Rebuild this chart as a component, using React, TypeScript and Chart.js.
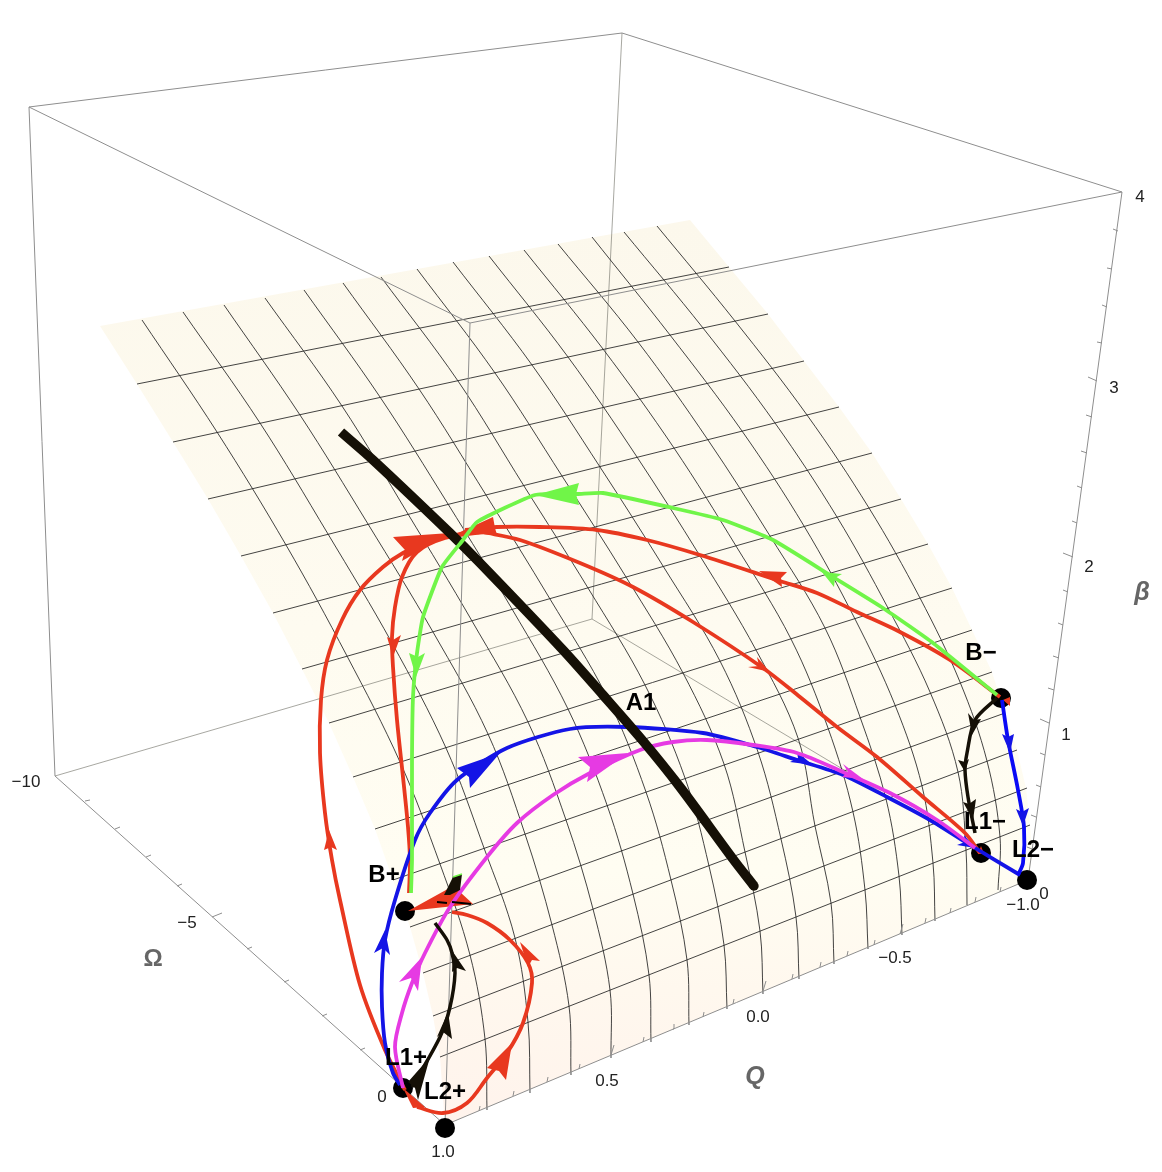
import React, { useEffect, useRef } from "react";
import { Chart, registerables } from "chart.js";

Chart.register(...registerables);

type P = [number, number];

// All values are positions.
const surfaceOutline: P[] = [
  [100, 326], [690, 220], [729, 267], [768, 314], [804, 361], [839, 407], [872, 453], [901, 499], [928, 544],
  [952, 588], [972, 630], [992, 672], [1005, 713], [1017, 750], [1026, 788], [1030, 825], [1032, 855], [1028, 880],
  [445, 1125], [440, 1057], [433, 1016], [423, 973], [410, 927], [393, 880], [375, 829], [353, 777], [329, 723],
  [302, 669], [273, 613], [241, 556], [208, 499], [173, 442], [137, 384],
];

const meshOmega: P[][] = [
  [[137, 384], [729, 267]], [[173, 442], [768, 314]], [[208, 499], [804, 361]], [[241, 556], [839, 407]],
  [[273, 613], [872, 453]], [[302, 669], [901, 499]], [[329, 723], [928, 544]], [[353, 777], [952, 588]],
  [[375, 829], [972, 630]], [[393, 880], [992, 672]], [[410, 927], [1005, 713]], [[423, 973], [1017, 750]],
  [[433, 1016], [1027, 788]], [[440, 1057], [1030, 825]],
];

const meshQ: P[][] = [
  [[142, 320], [217, 432], [286, 545], [347, 656], [400, 762], [440, 864], [470, 955], [485, 1039], [487, 1110]],
  [[183, 312], [260, 423], [328, 534], [392, 643], [446, 748], [484, 848], [515, 938], [528, 1022], [530, 1093]],
  [[224, 305], [300, 415], [368, 524], [433, 632], [488, 734], [525, 834], [552, 925], [569, 1006], [571, 1075]],
  [[265, 298], [342, 406], [408, 514], [472, 621], [528, 722], [566, 820], [593, 909], [610, 990], [611, 1058]],
  [[304, 290], [380, 397], [448, 504], [512, 609], [568, 709], [607, 805], [633, 894], [649, 975], [651, 1042]],
  [[343, 283], [419, 389], [486, 495], [550, 599], [607, 697], [646, 792], [671, 880], [687, 960], [689, 1025]],
  [[381, 277], [458, 381], [524, 486], [588, 588], [645, 685], [685, 778], [709, 866], [724, 945], [727, 1009]],
  [[417, 269], [495, 373], [562, 476], [626, 577], [683, 673], [724, 764], [745, 852], [760, 931], [763, 994]],
  [[453, 262], [532, 365], [600, 467], [663, 566], [720, 661], [758, 752], [781, 839], [796, 917], [799, 979]],
  [[489, 256], [568, 357], [637, 457], [700, 556], [756, 650], [798, 738], [815, 826], [831, 903], [834, 964]],
  [[524, 250], [603, 349], [674, 448], [736, 546], [791, 639], [828, 728], [853, 812], [865, 890], [868, 949]],
  [[558, 244], [638, 342], [708, 440], [770, 536], [825, 628], [860, 717], [886, 799], [899, 876], [902, 935]],
  [[592, 237], [670, 335], [742, 431], [804, 526], [855, 619], [895, 705], [922, 786], [933, 863], [935, 921]],
  [[624, 232], [703, 328], [775, 423], [837, 517], [888, 608], [930, 692], [958, 772], [966, 850], [967, 905]],
  [[657, 226], [735, 321], [807, 415], [869, 508], [920, 598], [960, 682], [987, 761], [1000, 837], [998, 890]],
];

const boxBack: P[][] = [
  [[55, 776], [592, 619]], [[592, 619], [1028, 880]], [[622, 33], [592, 619]],
];
const boxFront: P[][] = [
  [[29, 107], [622, 33]], [[622, 33], [1122, 192]], [[29, 107], [470, 323]], [[470, 323], [1122, 192]],
  [[29, 107], [55, 776]], [[470, 323], [445, 1125]], [[1122, 192], [1028, 880]], [[55, 776], [445, 1125]],
  [[445, 1125], [1028, 880]],
];

const omegaTicks: P[][] = [
  [[85, 801], [90, 800]], [[115, 829], [120, 827]], [[146, 857], [151, 855]], [[177, 886], [182, 884]],
  [[212, 917], [222, 913]], [[247, 949], [252, 947]], [[284, 982], [289, 980]], [[322, 1016], [327, 1014]],
  [[360, 1050], [365, 1048]], [[400, 1086], [410, 1082]],
];
const qTicks: P[][] = [
  [[479, 1111], [480, 1106]], [[513, 1096], [514, 1091]], [[547, 1082], [548, 1077]], [[579, 1069], [580, 1064]],
  [[611, 1055], [614, 1045]], [[643, 1042], [644, 1037]], [[673, 1029], [674, 1024]], [[703, 1017], [704, 1012]],
  [[733, 1004], [734, 999]], [[763, 991], [766, 981]], [[792, 979], [793, 974]], [[820, 967], [821, 962]],
  [[847, 956], [848, 951]], [[874, 945], [875, 940]], [[900, 934], [903, 924]], [[925, 923], [926, 918]],
  [[950, 913], [951, 908]], [[975, 902], [976, 897]], [[1000, 892], [1001, 887]],
];
const betaTicks: P[][] = [
  [[1118, 231], [1113, 229]], [[1112, 269], [1107, 268]], [[1107, 307], [1102, 305]], [[1102, 343], [1097, 342]],
  [[1097, 381], [1088, 377]], [[1092, 417], [1086, 415]], [[1087, 453], [1081, 451]], [[1082, 488], [1077, 486]],
  [[1077, 523], [1072, 521]], [[1073, 557], [1063, 553]], [[1068, 592], [1063, 590]], [[1063, 625], [1058, 623]],
  [[1059, 658], [1053, 656]], [[1054, 690], [1048, 688]], [[1049, 723], [1040, 719]], [[1045, 755], [1040, 753]],
  [[1041, 787], [1036, 785]], [[1036, 817], [1031, 815]], [[1032, 849], [1027, 847]],
];

const fixedPoints: P[] = [[405, 911], [445, 1128], [403, 1088], [1001, 698], [981, 853], [1027, 880]];

const lineA1: P[] = [[341, 432], [373, 460], [450, 533], [480, 563], [563, 650], [603, 695], [643, 741], [680, 787], [733, 859], [754, 886]];

const redOuter: P[] = [
  [405, 1090], [385, 1050], [360, 985], [340, 900], [332, 860], [325, 813], [320, 753], [321, 700], [327, 660], [342, 620],
  [360, 590], [383, 567], [403, 553], [430, 541], [470, 532],
];
const redUpper: P[] = [
  [1000, 697], [950, 660], [900, 632], [857, 612], [817, 593], [780, 581], [700, 555], [647, 540], [597, 530], [540, 527], [497, 527], [465, 530],
];
const redLower: P[] = [
  [980, 853], [965, 833], [923, 797], [877, 757], [837, 727], [800, 697], [763, 668], [693, 622], [633, 587], [580, 563], [520, 540], [483, 532],
];
const redInner: P[] = [
  [483, 532], [445, 538], [417, 552], [402, 577], [395, 607], [392, 637], [393, 667], [397, 720], [403, 777], [408, 827], [410, 860], [409, 893],
];
const redLoop: P[] = [
  [417, 1107], [443, 1113], [467, 1103], [487, 1078], [507, 1053], [523, 1023], [532, 983], [528, 963], [510, 940], [487, 923], [467, 915], [452, 912],
];
const greenPath: P[] = [
  [997, 695], [933, 643], [883, 608], [833, 577], [773, 540], [723, 520], [673, 508], [603, 493], [578, 494], [535, 495], [477, 522],
  [463, 540], [442, 567], [423, 617], [417, 653], [413, 697], [412, 760], [412, 860], [411, 893],
];
const bluePath: P[] = [
  [400, 1085], [393, 1073], [385, 1043], [382, 1007], [382, 973], [385, 940], [395, 900], [415, 840], [430, 813], [457, 780], [507, 748],
  [570, 729], [627, 727], [703, 733], [757, 747], [797, 760], [843, 775], [887, 797], [930, 820], [967, 843], [1020, 875],
];
const blueRight: P[] = [[1002, 700], [1008, 740], [1018, 790], [1024, 827], [1023, 863], [1018, 875]];
const magentaPath: P[] = [
  [403, 1088], [395, 1047], [402, 1013], [412, 983], [425, 953], [450, 907], [487, 857], [517, 823], [553, 795], [590, 773], [640, 750],
  [673, 742], [707, 740], [753, 745], [797, 753], [843, 772], [890, 793], [937, 820], [975, 848],
];
const blackMinus: P[] = [[997, 698], [975, 720], [967, 753], [965, 770], [968, 797], [975, 833]];
const blackPlus: P[] = [[412, 1087], [440, 1037], [450, 1007], [455, 973], [452, 953], [447, 940], [435, 923]];

const redArrows: P[][] = [
  [[329, 830], [324, 850], [331, 847], [337, 850]],
  [[450, 533], [393, 537], [405, 550], [402, 561]],
  [[393, 657], [387, 637], [393, 640], [401, 635]],
  [[458, 533], [493, 517], [495, 528], [497, 535]],
  [[759, 571], [787, 572], [781, 578], [782, 587]],
  [[770, 672], [748, 667], [759, 666], [757, 657]],
  [[512, 1043], [487, 1068], [499, 1071], [506, 1080]],
  [[520, 942], [540, 961], [532, 960], [528, 967]],
  [[408, 911], [455, 885], [460, 892], [473, 904]],
  [[403, 1088], [425, 1107], [413, 1108]],
  [[1003, 700], [1010, 697], [1010, 706]],
  [[981, 846], [984, 854], [978, 854]],
];
const greenArrows: P[][] = [
  [[535, 495], [579, 483], [576, 494], [579, 505]],
  [[822, 572], [842, 574], [835, 578], [834, 587]],
  [[416, 677], [409, 653], [418, 657], [425, 653]],
];
const blueArrows: P[][] = [
  [[385, 930], [374, 953], [383, 948], [390, 955]],
  [[500, 753], [457, 768], [469, 777], [470, 788]],
  [[813, 765], [790, 762], [798, 758], [797, 752]],
  [[975, 848], [957, 845], [965, 842], [964, 835]],
  [[1010, 753], [1002, 734], [1008, 737], [1014, 734]],
  [[1023, 826], [1016, 809], [1022, 812], [1029, 808]],
];
const magentaArrows: P[][] = [
  [[422, 957], [399, 982], [411, 978], [418, 991]],
  [[628, 753], [578, 757], [590, 767], [587, 782]],
  [[863, 779], [843, 764], [848, 772], [842, 777]],
];
const blackArrows: P[][] = [
  [[972, 735], [968, 713], [974, 720], [981, 719]],
  [[965, 772], [958, 760], [965, 762], [969, 759]],
  [[973, 820], [963, 802], [969, 804], [976, 799]],
  [[448, 1012], [437, 1037], [443, 1032], [452, 1039]],
  [[453, 952], [452, 972], [457, 968], [466, 971]],
  [[430, 1057], [408, 1082], [415, 1088], [418, 1100]],
  [[444, 895], [453, 877], [462, 874], [460, 890], [450, 895]],
];
const blackDashes: P[][] = [[[437, 902], [447, 903]], [[452, 902], [471, 904]]];
const greenSliver: P[] = [[453, 877], [462, 874]];

const tickTexts: [string, number, number][] = [
  ["4", 1140, 197], ["3", 1114, 388], ["2", 1089, 567], ["1", 1066, 735], ["0", 1044, 894],
  ["1.0", 443, 1152], ["0.5", 607, 1081], ["0.0", 758, 1017], ["\u22120.5", 895, 958], ["\u22121.0", 1023, 905],
  ["\u221210", 26, 782], ["\u22125", 187, 923], ["0", 382, 1097],
];
const pointTexts: [string, number, number][] = [
  ["B\u2212", 981, 653], ["L1\u2212", 985, 822], ["L2\u2212", 1033, 850], ["A1", 641, 703],
  ["B+", 384, 875], ["L1+", 406, 1058], ["L2+", 445, 1092],
];
const axisTexts: [string, number, number, string][] = [
  ["Q", 755, 1077, "italic bold 25px 'Liberation Sans'"],
  ["\u03B2", 1142, 593, "italic bold 25px 'Liberation Sans'"],
  ["\u03A9", 153, 959, "bold 24px 'Liberation Sans'"],
];

const RED = "#E8381F";
const GREEN = "#70F548";
const BLUE = "#1414E6";
const MAGENTA = "#E63AE3";
const INK = "#151006";

const pts = (a: P[]) => a.map(([x, y]) => ({ x, y }));
const broken = (segs: P[][]) =>
  segs.flatMap((s) => [...pts(s), { x: NaN, y: NaN }]);

const stroke = (data: any[], color: string, width: number, tension = 0, extra: any = {}) => ({
  data, showLine: true, borderColor: color, borderWidth: width, tension, pointRadius: 0, fill: false, spanGaps: false, ...extra,
});
const polygon = (a: P[], color: any) => ({
  data: pts(a), showLine: true, borderWidth: 0, borderColor: "transparent", backgroundColor: color, pointRadius: 0, fill: "shape", tension: 0,
});

const labelsPlugin = {
  id: "labels3d",
  afterDatasetsDraw(chart: any) {
    const { ctx, scales } = chart;
    ctx.save();
    ctx.textAlign = "center";
    ctx.textBaseline = "middle";
    ctx.fillStyle = "#222";
    ctx.font = "17px 'Liberation Sans'";
    tickTexts.forEach(([t, x, y]) => ctx.fillText(t, scales.x.getPixelForValue(x), scales.y.getPixelForValue(y)));
    ctx.fillStyle = "#000";
    ctx.font = "bold 24px 'Liberation Sans'";
    pointTexts.forEach(([t, x, y]) => ctx.fillText(t, scales.x.getPixelForValue(x), scales.y.getPixelForValue(y)));
    ctx.fillStyle = "#666";
    axisTexts.forEach(([t, x, y, f]) => {
      ctx.font = f;
      ctx.fillText(t, scales.x.getPixelForValue(x), scales.y.getPixelForValue(y));
    });
    ctx.restore();
  },
};

export default function App() {
  const ref = useRef<HTMLCanvasElement | null>(null);
  useEffect(() => {
    if (!ref.current) return;
    const surfaceFill = (c: any) => {
      const g = c.chart.ctx.createLinearGradient(0, 220, 0, 1125);
      g.addColorStop(0, "#FCF8EC");
      g.addColorStop(0.45, "#FEFBF0");
      g.addColorStop(0.72, "#FFFDF2");
      g.addColorStop(0.85, "#FFF8EE");
      g.addColorStop(1, "#FFF3EC");
      return g;
    };
    const painted: any[] = [
      polygon(surfaceOutline, surfaceFill),
      stroke(broken(boxBack), "rgba(120,120,110,0.65)", 1),
      ...meshOmega.map((l) => stroke(pts(l), "rgba(35,35,35,0.85)", 1)),
      ...meshQ.map((l) => stroke(pts(l), "rgba(35,35,35,0.85)", 1, 0.35)),
      stroke(broken(boxFront), "#8E8E8E", 1),
      stroke(broken(omegaTicks), "#8E8E8E", 1),
      stroke(broken(qTicks), "#8E8E8E", 1),
      stroke(broken(betaTicks), "#8E8E8E", 1),
      { data: pts(fixedPoints), showLine: false, pointRadius: 10, pointBackgroundColor: "#000", pointBorderWidth: 0 },
      stroke(pts(redOuter), RED, 3.8, 0.3),
      stroke(pts(redUpper), RED, 3.8, 0.3),
      stroke(pts(redLower), RED, 3.8, 0.3),
      stroke(pts(redInner), RED, 3.8, 0.3),
      stroke(pts(redLoop), RED, 3.8, 0.35),
      ...redArrows.map((a) => polygon(a, RED)),
      stroke(pts(bluePath), BLUE, 3.8, 0.25),
      stroke(pts(blueRight), "#0A0AF5", 3.8, 0.3),
      ...blueArrows.map((a) => polygon(a, BLUE)),
      stroke(pts(magentaPath), MAGENTA, 3.8, 0.3),
      ...magentaArrows.map((a) => polygon(a, MAGENTA)),
      stroke(pts(blackMinus), INK, 3.5, 0.3),
      stroke(pts(blackPlus), INK, 3.5, 0.3),
      ...blackArrows.map((a) => polygon(a, INK)),
      stroke(broken(blackDashes), "#000", 2),
      stroke(pts(lineA1), INK, 9.5, 0.3, {
        pointRadius: lineA1.map((_, i) => (i === lineA1.length - 1 ? 4.7 : 0)),
        pointBackgroundColor: INK,
        pointBorderWidth: 0,
      }),
      stroke(pts(greenPath), GREEN, 3.8, 0.15),
      ...greenArrows.map((a) => polygon(a, GREEN)),
      stroke(pts(greenSliver), GREEN, 1.5),
    ];
    const datasets = painted.map((d, i) => ({ ...d, order: painted.length - i }));
    const chart = new Chart(ref.current, {
      type: "scatter",
      data: { datasets },
      options: {
        animation: false,
        responsive: false,
        events: [],
        layout: { padding: 0, autoPadding: false },
        plugins: { legend: { display: false }, tooltip: { enabled: false } },
        scales: {
          x: { type: "linear", min: 0, max: 1162, display: false },
          y: { type: "linear", min: 0, max: 1172, reverse: true, display: false },
        },
      },
      plugins: [labelsPlugin],
    } as any);
    return () => chart.destroy();
  }, []);
  return (
    <canvas
      ref={ref}
      width={1162}
      height={1172}
      style={{ position: "absolute", left: 0, top: 0, width: 1162, height: 1172, display: "block" }}
    />
  );
}
